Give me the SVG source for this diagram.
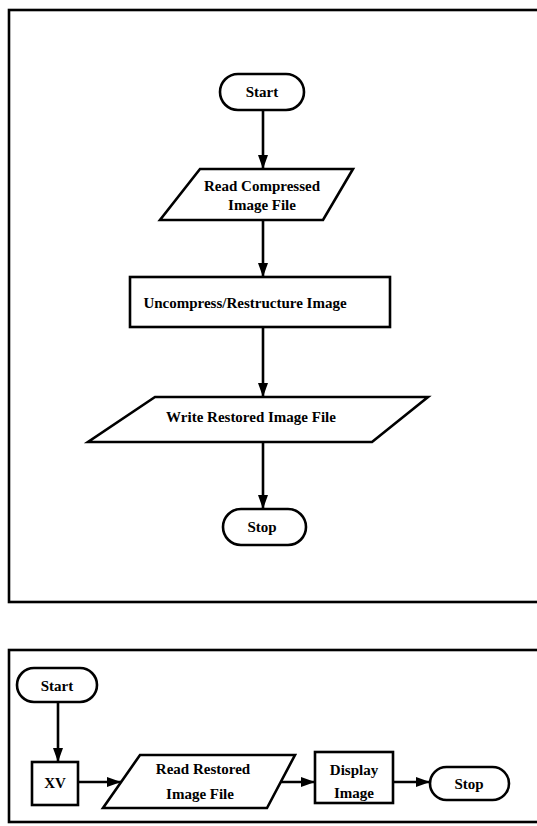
<svg xmlns="http://www.w3.org/2000/svg" width="537" height="826" viewBox="0 0 537 826">
<style>
.f{fill:#fff;stroke:#000;stroke-width:2.6;stroke-linejoin:miter}
.frame{fill:none;stroke:#000;stroke-width:2.6}
.c{fill:none;stroke:#000;stroke-width:2.6}
text{font-family:"Liberation Serif","Times New Roman",serif;font-weight:bold;font-size:15px;fill:#000;text-anchor:middle;dominant-baseline:central}
</style>
<defs>
<marker id="ah" viewBox="0 0 14 10" refX="14" refY="5" markerWidth="14" markerHeight="10" markerUnits="userSpaceOnUse" orient="auto">
<path d="M0,0 L14,5 L0,10 Z" fill="#000"/>
</marker>
</defs>
<rect width="537" height="826" fill="#fff"/>
<rect class="frame" x="9" y="10" width="540" height="592"/>
<rect class="frame" x="9" y="650" width="540" height="172"/>
<g id="connectors">
<line class="c" x1="263" y1="110" x2="263" y2="169" marker-end="url(#ah)"/>
<line class="c" x1="263" y1="220" x2="263" y2="277" marker-end="url(#ah)"/>
<line class="c" x1="263" y1="327" x2="263" y2="397" marker-end="url(#ah)"/>
<line class="c" x1="263" y1="442" x2="263" y2="509" marker-end="url(#ah)"/>
<line class="c" x1="58" y1="702" x2="58" y2="762" marker-end="url(#ah)"/>
<line class="c" x1="78" y1="782" x2="121" y2="782" marker-end="url(#ah)"/>
<line class="c" x1="278" y1="782" x2="315" y2="782" marker-end="url(#ah)"/>
<line class="c" x1="393" y1="782" x2="430" y2="782" marker-end="url(#ah)"/>
</g>
<g id="start1">
<rect class="f" x="220" y="74" width="84" height="36" rx="18"/>
<text x="262" y="92">Start</text>
</g>
<g id="readCompressed">
<polygon class="f" points="200,169 353,169 323,220 160,220"/>
<text x="262" y="186">Read Compressed</text>
<text x="262" y="205">Image File</text>
</g>
<g id="uncompress">
<rect class="f" x="130" y="277" width="260" height="50"/>
<text x="245" y="303">Uncompress/Restructure Image</text>
</g>
<g id="writeRestored">
<polygon class="f" points="155,397 428,397 372,442 88,442"/>
<text x="251" y="417">Write Restored Image File</text>
</g>
<g id="stop1">
<rect class="f" x="223" y="509" width="83" height="36" rx="18"/>
<text x="262" y="527">Stop</text>
</g>
<g id="start2">
<rect class="f" x="17" y="668" width="80" height="34" rx="17"/>
<text x="57" y="686">Start</text>
</g>
<g id="xv">
<rect class="f" x="32" y="762" width="46" height="43"/>
<text x="55" y="783">XV</text>
</g>
<g id="readRestored">
<polygon class="f" points="140,755 295,755 267,808 103,808"/>
<text x="203" y="769">Read Restored</text>
<text x="200" y="794">Image File</text>
</g>
<g id="display">
<rect class="f" x="315" y="752" width="78" height="51"/>
<text x="354" y="770">Display</text>
<text x="354" y="793">Image</text>
</g>
<g id="stop2">
<rect class="f" x="430" y="767" width="79" height="33" rx="16.5"/>
<text x="469" y="784">Stop</text>
</g>
</svg>
